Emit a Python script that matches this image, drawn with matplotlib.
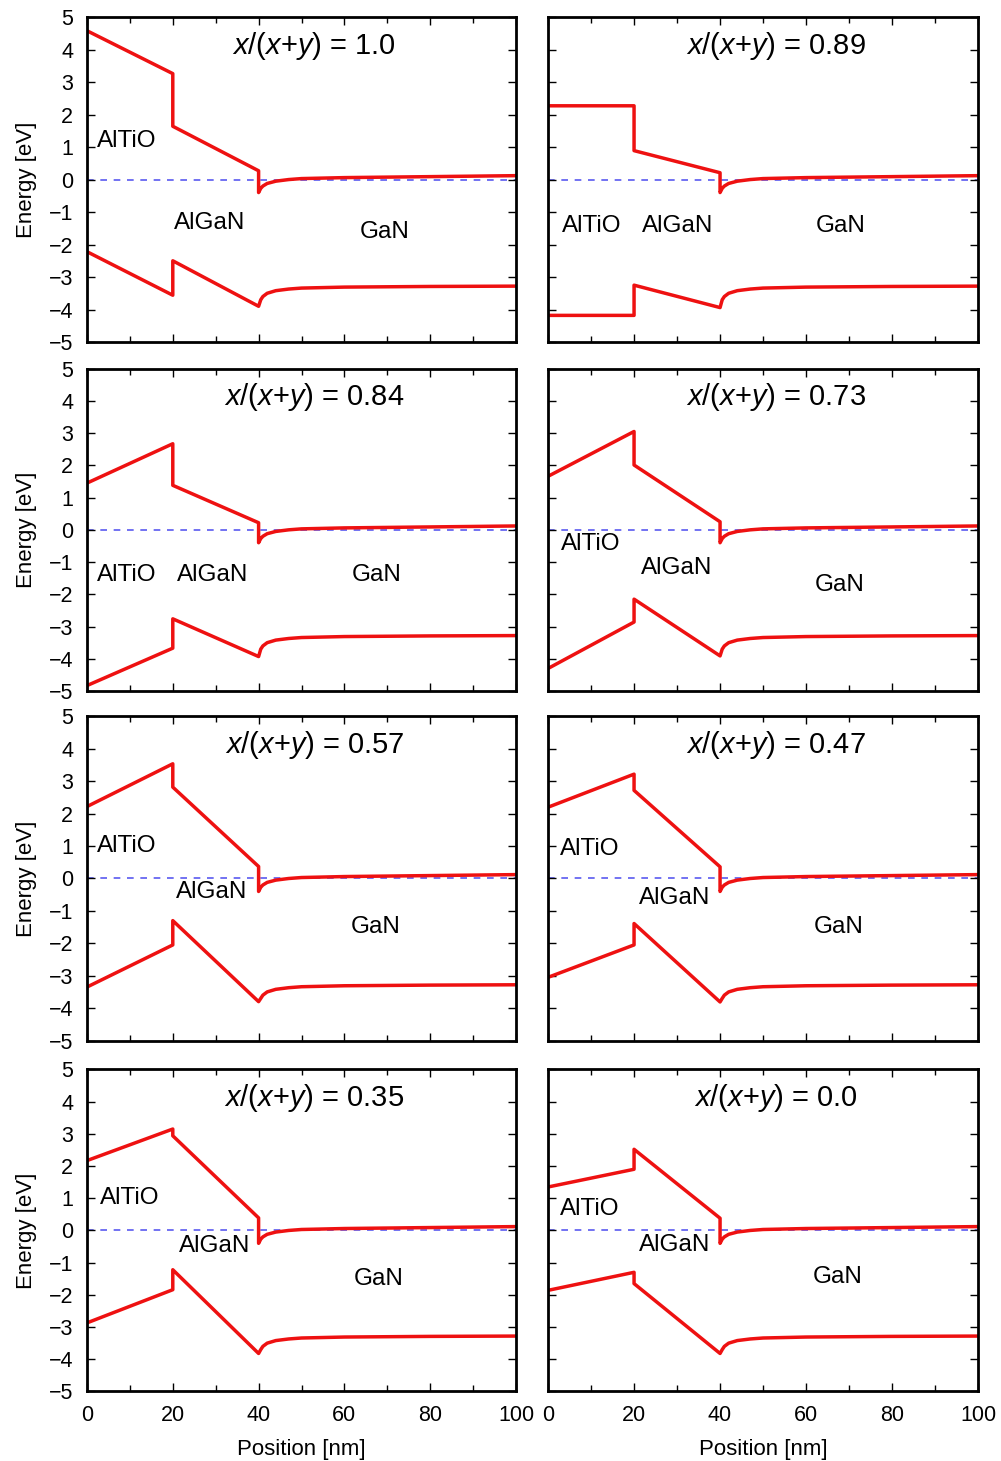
"""
Band diagrams of AlTiO / AlGaN / GaN stacks for different x/(x+y) ratios
(conduction and valence band edges vs. position)
"""

import numpy as np
import matplotlib.pyplot as plt

# fonts: Arial-like text, italic x and y in the titles
plt.rcParams['font.family'] = ['Liberation Sans', 'DejaVu Sans']
plt.rcParams['mathtext.fontset'] = 'custom'
plt.rcParams['mathtext.it'] = 'Liberation Sans:italic'
plt.rcParams['mathtext.rm'] = 'Liberation Sans'

# composition ratio shown in each panel (row by row)
ratios = ['1.0', '0.89', '0.84', '0.73', '0.57', '0.47', '0.35', '0.0']

# positions of the layer edges [nm]: AlTiO 0-20, AlGaN 20-40
edge_x = [0, 20, 20, 40]

# conduction band at x=0, x=20 (AlTiO side), x=20 (AlGaN side), x=40 (AlGaN side)
cb_edges = [
    [4.58, 3.26, 1.64, 0.27],
    [2.27, 2.27, 0.89, 0.21],
    [1.45, 2.67, 1.38, 0.22],
    [1.66, 3.05, 2.01, 0.25],
    [2.22, 3.54, 2.82, 0.37],
    [2.20, 3.22, 2.72, 0.36],
    [2.17, 3.15, 2.94, 0.39],
    [1.35, 1.90, 2.52, 0.38],
]
# valence band at the same points
vb_edges = [
    [-2.22, -3.56, -2.50, -3.90],
    [-4.18, -4.18, -3.25, -3.94],
    [-4.83, -3.67, -2.76, -3.93],
    [-4.30, -2.86, -2.15, -3.91],
    [-3.35, -2.05, -1.30, -3.80],
    [-3.05, -2.05, -1.39, -3.81],
    [-2.87, -1.84, -1.22, -3.82],
    [-1.86, -1.30, -1.65, -3.82],
]

# GaN side (40-100 nm), about the same in every panel
gan_x = [40, 40.5, 41, 42, 44, 47, 50, 60, 80, 100]
gan_cb = [-0.40, -0.27, -0.20, -0.12, -0.05, 0.0, 0.03, 0.06, 0.09, 0.12]
gan_vb = [-3.88, -3.70, -3.60, -3.50, -3.42, -3.37, -3.34, -3.31, -3.29, -3.28]

layers = ['AlTiO', 'AlGaN', 'GaN']

# where the layer names sit in each panel (data coords)
label_xy = [
    [(9.3, 1.2), (28.7, -1.34), (69.5, -1.6)],
    [(10.2, -1.43), (30.2, -1.43), (68.1, -1.43)],
    [(9.3, -1.41), (29.4, -1.41), (67.6, -1.41)],
    [(10.0, -0.44), (29.8, -1.19), (67.9, -1.72)],
    [(9.3, 1.0), (29.1, -0.41), (67.4, -1.49)],
    [(9.8, 0.92), (29.5, -0.6), (67.7, -1.5)],
    [(10.0, 1.02), (29.8, -0.47), (68.0, -1.52)],
    [(9.8, 0.67), (29.5, -0.45), (67.4, -1.44)],
]

# axes rectangles (figure fraction)
col_left = [0.0869, 0.5475]
col_width = [0.4286, 0.4296]
row_bottom = [0.7659, 0.5270, 0.2878, 0.0476]
row_height = [0.2224, 0.2207, 0.2218, 0.2204]

plt.close('all')
fig = plt.figure(figsize=(10.01, 14.61), dpi=100)

red = '#ee1111'
for i in range(8):
    r, c = i // 2, i % 2
    ax = fig.add_axes([col_left[c], row_bottom[r], col_width[c], row_height[r]])

    # fermi level
    ax.axhline(0, color='#5a5af0', lw=1.2, ls=(0, (4, 4)), zorder=1)

    # conduction band: layers then GaN
    ax.plot(edge_x + gan_x, cb_edges[i] + gan_cb, color=red, lw=2.5, zorder=2)
    # valence band is continuous at 40 nm, so skip the first GaN point
    ax.plot(edge_x + gan_x[1:], vb_edges[i] + gan_vb[1:], color=red, lw=2.5, zorder=2)

    for name, (lx, ly) in zip(layers, label_xy[i]):
        ax.text(lx, ly, name, ha='center', va='center', fontsize=17.5)

    ax.text(53, 4.12, r'$x$/($x$+$y$) = ' + ratios[i], ha='center', va='center',
            fontsize=21)

    ax.set_xlim(0, 100)
    ax.set_ylim(-5, 5)
    ax.set_xticks(np.arange(0, 101, 20))
    ax.set_xticks(np.arange(10, 100, 20), minor=True)
    ax.set_yticks(np.arange(-5, 6, 1))
    ax.tick_params(which='both', direction='in', top=True, right=True,
                   labelsize=15.5, width=1.0)
    ax.tick_params(which='major', length=6, pad=10)
    ax.tick_params(which='minor', length=4)
    for s in ax.spines.values():
        s.set_linewidth(2.0)

    if c == 0:
        ax.set_ylabel('Energy [eV]', fontsize=16, labelpad=8)
    else:
        ax.tick_params(labelleft=False)
    if r == 3:
        ax.set_xlabel('Position [nm]', fontsize=16, labelpad=9)
    else:
        ax.tick_params(labelbottom=False)

fig.savefig('out.png', dpi=100)
